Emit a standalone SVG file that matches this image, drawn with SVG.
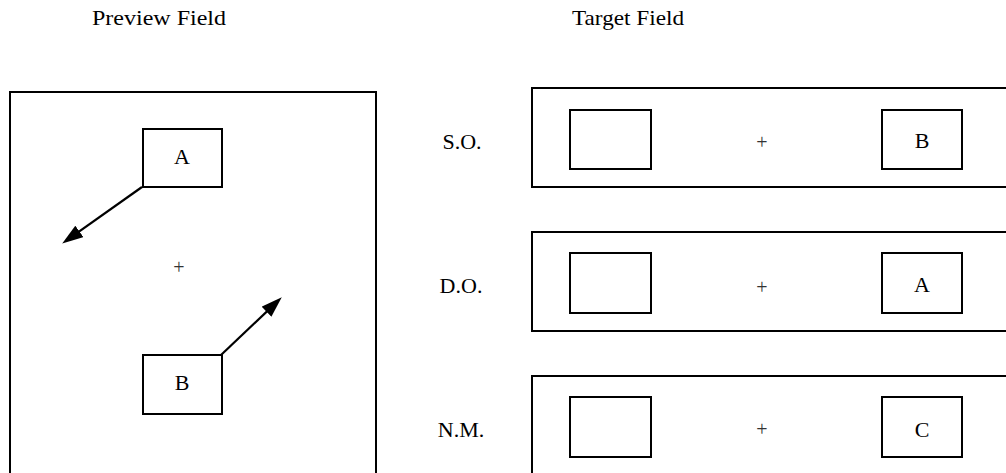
<svg xmlns="http://www.w3.org/2000/svg" width="1006" height="473" viewBox="0 0 1006 473">
<style>
.box{fill:#fff;stroke:#000;stroke-width:2}
.t{font-family:"Liberation Serif","Times New Roman",serif;font-size:22px;fill:#000}
.c{text-anchor:middle}
.plus{font-family:"Liberation Serif","Times New Roman",serif;font-size:20px;fill:#333;text-anchor:middle}
.conn{stroke:#000;stroke-width:2.2;fill:none}
</style>
<defs>
<marker id="ah" markerUnits="userSpaceOnUse" markerWidth="22" markerHeight="14" refX="10" refY="7" orient="auto" viewBox="0 0 22 14">
<path d="M0,0 L21,7 L0,14 z" fill="#000"/>
</marker>
</defs>
<rect width="1006" height="473" fill="#fff"/>
<text class="t" x="92" y="25" textLength="134" lengthAdjust="spacingAndGlyphs">Preview Field</text>
<text class="t" x="572" y="25" textLength="112" lengthAdjust="spacingAndGlyphs">Target Field</text>
<g id="preview">
<rect class="box" x="10" y="92" width="366" height="400"/>
<text class="plus" x="179" y="274">+</text>
</g>
<g id="nodeA">
<rect class="box" x="143" y="129" width="79" height="58"/>
<text class="t c" x="182" y="164">A</text>
</g>
<g id="nodeB">
<rect class="box" x="143" y="355" width="79" height="59"/>
<text class="t c" x="182" y="390">B</text>
</g>
<g id="connectors">
<line class="conn" x1="142" y1="187" x2="71.2" y2="237.2" marker-end="url(#ah)"/>
<line class="conn" x1="221" y1="355" x2="273.8" y2="304.9" marker-end="url(#ah)"/>
</g>
<g id="so">
<text class="t c" x="462" y="149">S.O.</text>
<rect class="box" x="532" y="88" width="490" height="99"/>
<rect class="box" x="570" y="110" width="81" height="59"/>
<text class="plus" x="762" y="149">+</text>
<rect class="box" x="882" y="110" width="80" height="59"/>
<text class="t c" x="922" y="148">B</text>
</g>
<g id="do">
<text class="t c" x="461" y="293">D.O.</text>
<rect class="box" x="532" y="232" width="490" height="99"/>
<rect class="box" x="570" y="253" width="81" height="60"/>
<text class="plus" x="762" y="294">+</text>
<rect class="box" x="882" y="253" width="80" height="60"/>
<text class="t c" x="922" y="292">A</text>
</g>
<g id="nm">
<text class="t c" x="461" y="437">N.M.</text>
<rect class="box" x="532" y="376" width="490" height="120"/>
<rect class="box" x="570" y="397" width="81" height="60"/>
<text class="plus" x="762" y="436">+</text>
<rect class="box" x="882" y="397" width="80" height="60"/>
<text class="t c" x="922" y="437">C</text>
</g>
</svg>
